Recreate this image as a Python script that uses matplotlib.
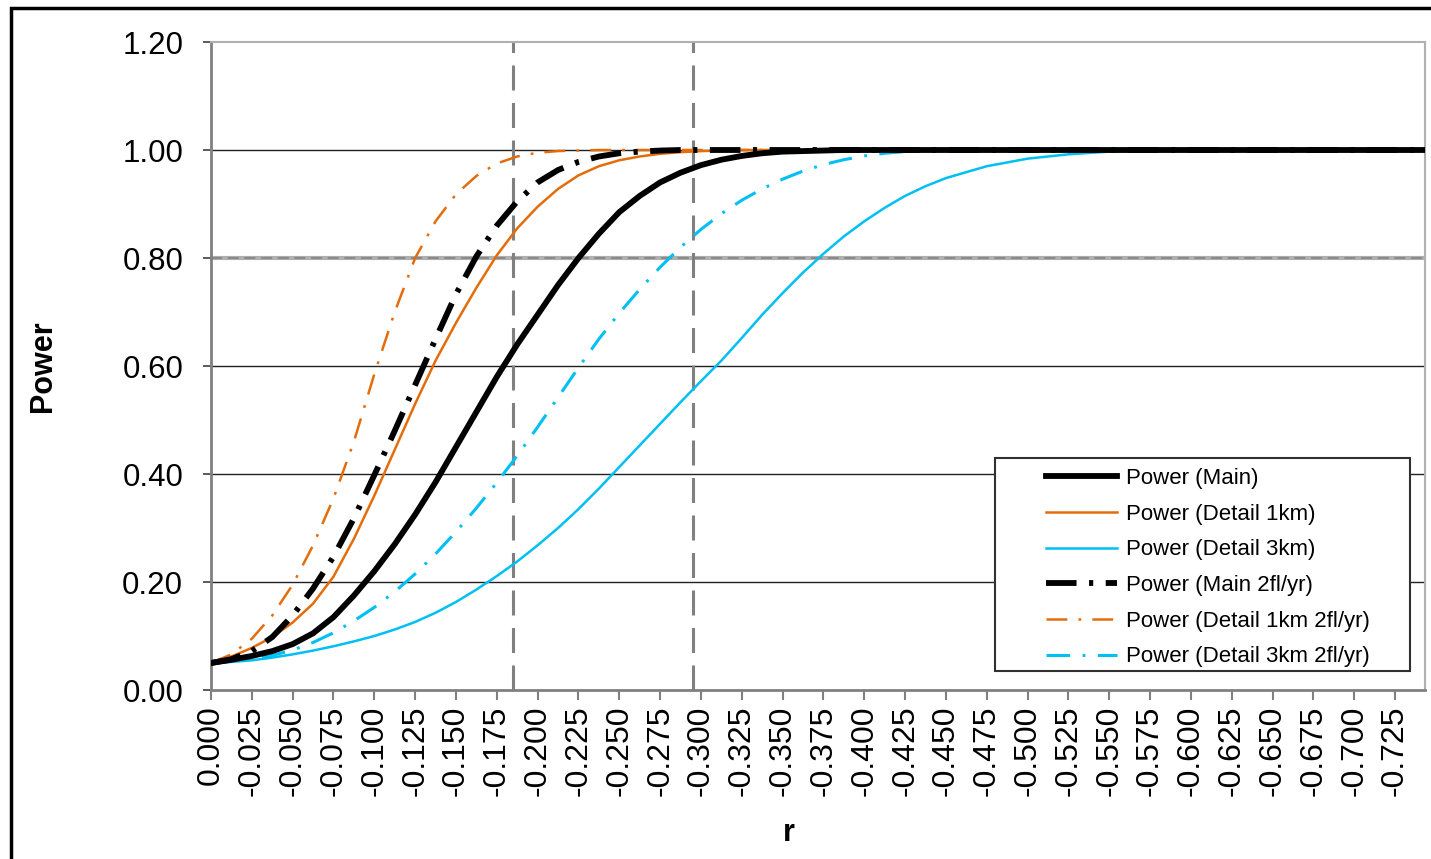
import numpy as np
import matplotlib
matplotlib.use("Agg")
import matplotlib.pyplot as plt
from matplotlib.lines import Line2D
from matplotlib.legend_handler import HandlerLine2D
from matplotlib.patches import Rectangle

plt.rcParams['font.family'] = ['Liberation Sans', 'DejaVu Sans']
plt.rcParams['lines.scale_dashes'] = False

# r values (magnitude; axis labels are shown negative)
r = [0, 0.0125, 0.025, 0.0375, 0.05, 0.0625, 0.075, 0.0875, 0.1, 0.1125,
     0.125, 0.1375, 0.15, 0.1625, 0.175, 0.1875, 0.2, 0.2125, 0.225, 0.2375,
     0.25, 0.2625, 0.275, 0.2875, 0.3, 0.3125, 0.325, 0.3375, 0.35, 0.3625,
     0.375, 0.3875, 0.4, 0.4125, 0.425, 0.4375, 0.45, 0.475, 0.5, 0.525,
     0.55, 0.575, 0.6, 0.65, 0.7, 0.745]

power_main = [0.05, 0.056, 0.063, 0.072, 0.085, 0.105, 0.135, 0.175, 0.22, 0.27,
              0.325, 0.385, 0.45, 0.515, 0.58, 0.64, 0.695, 0.75, 0.80, 0.845,
              0.885, 0.915, 0.94, 0.958, 0.972, 0.982, 0.989, 0.994, 0.997, 0.998,
              0.999, 1, 1, 1, 1, 1, 1, 1, 1, 1,
              1, 1, 1, 1, 1, 1]
power_det1 = [0.05, 0.062, 0.078, 0.098, 0.125, 0.16, 0.21, 0.28, 0.36, 0.445,
              0.53, 0.61, 0.68, 0.745, 0.805, 0.855, 0.895, 0.928, 0.953, 0.97,
              0.981, 0.988, 0.993, 0.996, 0.998, 0.999, 1, 1, 1, 1,
              1, 1, 1, 1, 1, 1, 1, 1, 1, 1,
              1, 1, 1, 1, 1, 1]
power_det3 = [0.05, 0.052, 0.055, 0.06, 0.066, 0.073, 0.081, 0.09, 0.10, 0.112,
              0.126, 0.143, 0.163, 0.186, 0.211, 0.238, 0.268, 0.30, 0.335, 0.373,
              0.413, 0.453, 0.493, 0.533, 0.572, 0.61, 0.652, 0.695, 0.735, 0.773,
              0.808, 0.84, 0.868, 0.893, 0.915, 0.933, 0.948, 0.97, 0.984, 0.992,
              0.997, 0.999, 1, 1, 1, 1]
power_main_2fl = [0.05, 0.057, 0.072, 0.098, 0.138, 0.188, 0.247, 0.318, 0.398, 0.48,
                  0.565, 0.65, 0.733, 0.803, 0.86, 0.905, 0.94, 0.963, 0.978, 0.988,
                  0.994, 0.997, 0.999, 1, 1, 1, 1, 1, 1, 1,
                  1, 1, 1, 1, 1, 1, 1, 1, 1, 1,
                  1, 1, 1, 1, 1, 1]
power_det1_2fl = [0.05, 0.066, 0.095, 0.138, 0.195, 0.268, 0.355, 0.46, 0.585, 0.70,
                  0.80, 0.868, 0.918, 0.952, 0.975, 0.988, 0.995, 0.998, 0.999, 1,
                  1, 1, 1, 1, 1, 1, 1, 1, 1, 1,
                  1, 1, 1, 1, 1, 1, 1, 1, 1, 1,
                  1, 1, 1, 1, 1, 1]
power_det3_2fl = [0.05, 0.053, 0.057, 0.064, 0.074, 0.088, 0.106, 0.128, 0.153, 0.182,
                  0.215, 0.252, 0.293, 0.337, 0.384, 0.434, 0.487, 0.542, 0.597, 0.65,
                  0.698, 0.742, 0.783, 0.82, 0.853, 0.882, 0.907, 0.928, 0.946, 0.961,
                  0.973, 0.982, 0.989, 0.994, 0.997, 0.999, 1, 1, 1, 1,
                  1, 1, 1, 1, 1, 1]

tick_r = [i * 0.025 for i in range(30)]
tick_labels = ['0.000'] + ['-%.3f' % t for t in tick_r[1:]]
ref_lines = [0.185, 0.295]
y_ticks = [0.0, 0.2, 0.4, 0.6, 0.8, 1.0, 1.2]

ORANGE = '#E46C0A'
CYAN = '#00BFF3'

fig = plt.figure(figsize=(14.31, 8.59), dpi=100)
ax = fig.add_axes([211 / 1431, 1 - 690 / 859, (1425 - 211) / 1431, (690 - 42) / 859])

# grid lines
for yv in [0.2, 0.4, 0.6, 1.0]:
    ax.axhline(yv, color='#202020', lw=1.0, zorder=1)
ax.axhline(0.8, color='#b0b0b0', lw=3.0, zorder=1)
ax.axhline(0.8, color='#8a8a8a', lw=1.5, dashes=(8, 4), zorder=1)

for xv in ref_lines:
    ax.axvline(xv, color='#808080', lw=2.2, dashes=(18, 9), zorder=2)

dd_black = (22, 9, 3, 9)
dd_orange = (15, 8, 2, 8)
dd_cyan = (17, 9, 2, 9)

ax.plot(r, power_main, color='black', lw=4.2, zorder=5, label='Power (Main)')
ax.plot(r, power_det1, color=ORANGE, lw=1.8, zorder=4, label='Power (Detail 1km)')
ax.plot(r, power_det3, color=CYAN, lw=1.8, zorder=3, label='Power (Detail 3km)')
ax.plot(r, power_main_2fl, color='black', lw=4.2, dashes=dd_black, zorder=5,
        label='Power (Main 2fl/yr)')
ax.plot(r, power_det1_2fl, color=ORANGE, lw=1.8, dashes=dd_orange, zorder=4,
        label='Power (Detail 1km 2fl/yr)')
ax.plot(r, power_det3_2fl, color=CYAN, lw=2.2, dashes=dd_cyan, zorder=3,
        label='Power (Detail 3km 2fl/yr)')

ax.set_xlim(0, 0.7433)
ax.set_ylim(0, 1.2)
ax.set_xticks(tick_r)
ax.set_xticklabels(tick_labels, rotation=90, fontsize=23)
ax.set_yticks(y_ticks)
ax.set_yticklabels(['%.2f' % v for v in y_ticks], fontsize=22.5)
ax.tick_params(axis='x', direction='out', length=7, width=1.5, color='#808080', pad=4)
ax.tick_params(axis='y', direction='out', length=6, width=1.2, color='#404040', pad=14)

for side in ['left', 'bottom']:
    ax.spines[side].set_color('#808080')
    ax.spines[side].set_linewidth(2)
for side in ['top', 'right']:
    ax.spines[side].set_color('#b0b0b0')
    ax.spines[side].set_linewidth(1.5)

ax.set_xlabel('r', fontsize=22, fontweight='bold')
ax.xaxis.set_label_coords(0.476, -0.197)
ax.set_ylabel('Power', fontsize=22, fontweight='bold', labelpad=46)

# legend box drawn separately so it can be wider than the entries
ax.add_patch(Rectangle((0.6458, 0.0293), 0.3418, 0.3287, transform=ax.transAxes,
                       facecolor='white', edgecolor='#303030', lw=1.5, zorder=9))
handler = HandlerLine2D(xpad=2.1)
leg = ax.legend(loc='lower right', bbox_to_anchor=(0.9588, 0.0262), borderaxespad=0,
                fontsize=16, frameon=False, handlelength=5.3,
                handletextpad=0.4, labelspacing=0.66, borderpad=0.25,
                handler_map={Line2D: handler})
leg.set_zorder(10)

# outer chart border
fig.patches.append(Rectangle((11 / 1431, -0.5), 2, 1.5 - 8 / 859,
                             transform=fig.transFigure, fill=False,
                             edgecolor='black', lw=2.5, clip_on=False))

fig.savefig('out.png', dpi=100)
